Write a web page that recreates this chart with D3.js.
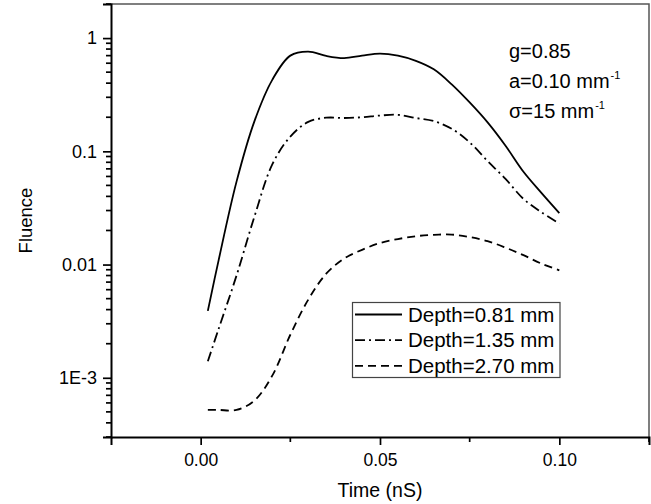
<!DOCTYPE html>
<html>
<head>
<meta charset="utf-8">
<script src="https://cdnjs.cloudflare.com/ajax/libs/d3/7.8.5/d3.min.js"></script>
<style>
  body { margin: 0; background: #fff; }
  svg { display: block; font-family: "Liberation Sans", Arial, sans-serif; }
</style>
</head>
<body>
<svg id="chart" width="651" height="504"></svg>
<script>
// time points (nS)
const time = [0.002, 0.005, 0.01, 0.015, 0.02, 0.025, 0.03, 0.035, 0.04, 0.045, 0.05,
              0.055, 0.06, 0.065, 0.07, 0.075, 0.08, 0.085, 0.09, 0.095, 0.1];

// fluence per depth
const depth081 = [0.0039, 0.0109, 0.054, 0.185, 0.43, 0.70, 0.76, 0.695, 0.665, 0.70, 0.73,
                  0.70, 0.63, 0.53, 0.39, 0.27, 0.18, 0.112, 0.066, 0.043, 0.0285];
const depth135 = [0.0014, 0.0027, 0.008, 0.0266, 0.077, 0.135, 0.182, 0.198, 0.197, 0.200, 0.207,
                  0.21, 0.197, 0.185, 0.158, 0.12, 0.082, 0.057, 0.038, 0.029, 0.023];
const depth270 = [0.00052, 0.00052, 0.00052, 0.00063, 0.00105, 0.0024, 0.0049, 0.0083, 0.0113, 0.0135, 0.0155,
                  0.0168, 0.0178, 0.0183, 0.0184, 0.0175, 0.0161, 0.0141, 0.0121, 0.0102, 0.0089];

const seriesNames = ['Depth=0.81 mm', 'Depth=1.35 mm', 'Depth=2.70 mm'];
const seriesDash = ['none', '10,4,2,4', '8,5'];

const xTicks = [0, 0.05, 0.1];
const xTickLabels = ['0.00', '0.05', '0.10'];
const xMinorTicks = [0.025, 0.075, 0.125];
const yTicks = [0.001, 0.01, 0.1, 1];
const yTickLabels = ['1E-3', '0.01', '0.1', '1'];

const params = [
    {text: 'g=0.85', sup: null},
    {text: 'a=0.10 mm', sup: '-1'},
    {text: '\u03c3=15 mm', sup: '-1'}
];

const svg = d3.select('#chart');
const plotL = 111, plotR = 649, plotT = 4, plotB = 437;

const x = d3.scaleLinear().domain([-0.025, 0.125]).range([plotL, plotR]);
const y = d3.scaleLog().domain([3e-4, 2]).range([plotB, plotT]);

// frame (top and right)
svg.append('path')
    .attr('d', `M${plotL},${plotT}H${plotR}V${plotB}`)
    .attr('fill', 'none')
    .attr('stroke', '#555')
    .attr('stroke-width', 1.5);

// left axis
let yAxis = svg.append('g')
    .attr('transform', `translate(${plotL},0)`)
    .call(d3.axisLeft(y).tickValues(yTicks).tickFormat((d, i) => yTickLabels[i]).tickSize(8).tickPadding(6));

// minor ticks on the log axis
let yMinor = y.ticks().filter(d => Math.abs(Math.log10(d) - Math.round(Math.log10(d))) > 1e-6);
svg.append('g').selectAll('line')
    .data(yMinor)
    .enter().append('line')
    .attr('x1', plotL - 5).attr('x2', plotL)
    .attr('y1', d => y(d)).attr('y2', d => y(d))
    .attr('stroke', '#000').attr('stroke-width', 1.7);

// bottom axis
let xAxis = svg.append('g')
    .attr('transform', `translate(0,${plotB})`)
    .call(d3.axisBottom(x).tickValues(xTicks).tickFormat((d, i) => xTickLabels[i]).tickSize(8).tickPadding(9));
svg.append('g').selectAll('line')
    .data(xMinorTicks)
    .enter().append('line')
    .attr('x1', d => x(d)).attr('x2', d => x(d))
    .attr('y1', plotB).attr('y2', plotB + 5)
    .attr('stroke', '#000').attr('stroke-width', 1.7);

svg.selectAll('.domain').attr('stroke', '#000').attr('stroke-width', 2);
svg.selectAll('.tick line').attr('stroke', '#000').attr('stroke-width', 1.7);
yAxis.selectAll('text').attr('font-size', 18).attr('fill', '#000');
xAxis.selectAll('text').attr('font-size', 17.5).attr('fill', '#000');

// axis titles
svg.append('text')
    .attr('transform', `translate(32,${(plotT + plotB) / 2}) rotate(-90)`)
    .attr('text-anchor', 'middle')
    .attr('font-size', 18.5)
    .text('Fluence');
svg.append('text')
    .attr('x', x(0.05))
    .attr('y', 497)
    .attr('text-anchor', 'middle')
    .attr('font-size', 19.5)
    .text('Time (nS)');

// curves
const allSeries = [depth081, depth135, depth270];
const line = d3.line()
    .x((d, i) => x(time[i]))
    .y(d => y(d))
    .curve(d3.curveCatmullRom);

svg.selectAll('path.curve')
    .data(allSeries)
    .enter().append('path')
    .attr('class', 'curve')
    .attr('d', line)
    .attr('fill', 'none')
    .attr('stroke', '#000')
    .attr('stroke-width', 1.8)
    .attr('stroke-dasharray', (d, i) => seriesDash[i]);

// legend
const legend = svg.append('g');
legend.append('rect')
    .attr('x', 352.5).attr('y', 302.5)
    .attr('width', 207.5).attr('height', 75)
    .attr('fill', '#fff')
    .attr('stroke', '#444')
    .attr('stroke-width', 1.2);
seriesNames.forEach((name, i) => {
    let ly = 314.5 + i * 25.7;
    legend.append('line')
        .attr('x1', 355).attr('x2', 402)
        .attr('y1', ly).attr('y2', ly)
        .attr('stroke', '#000')
        .attr('stroke-width', 1.8)
        .attr('stroke-dasharray', seriesDash[i]);
    legend.append('text')
        .attr('x', 408).attr('y', ly + 7)
        .attr('font-size', 20.5)
        .text(name);
});

// parameter annotation
params.forEach((p, i) => {
    let t = svg.append('text')
        .attr('x', 509).attr('y', 58 + i * 30)
        .attr('font-size', 20)
        .text(p.text);
    if(p.sup) {
        t.append('tspan')
            .attr('dy', -9)
            .attr('dx', 1)
            .attr('font-size', 11)
            .text(p.sup);
    }
});
</script>
</body>
</html>
